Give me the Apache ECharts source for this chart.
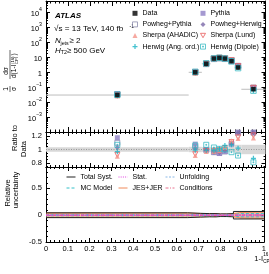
<!DOCTYPE html>
<html><head><meta charset="utf-8">
<script src="https://cdn.jsdelivr.net/npm/echarts@6/dist/echarts.min.js"></script>
<style>html,body{margin:0;padding:0;background:#fff}#c{width:269px;height:274px}</style>
</head><body><div id="c"></div>
<script>
const FONT = 'Liberation Sans, Arial, Helvetica, sans-serif';
// ---- data ----
const binLo = [0, 0.65, 0.71, 0.75, 0.78, 0.80, 0.83, 0.86, 0.89];
const binHi = [0.65, 0.71, 0.75, 0.78, 0.80, 0.83, 0.86, 0.89, 1.0];
const binCenters = [0.325, 0.68, 0.73, 0.765, 0.79, 0.815, 0.845, 0.875, 0.945];
const dataValues = [0.03, 1.0, 3.7, 8.3, 9.3, 8.3, 5.6, 2.1, 0.073];
const ratioPythia = [1.175, 1.08, 1.0, 0.96, 0.94, 0.97, 1.09, 1.255, 1.255];
const ratioPowhegPythia = [1.10, 1.04, 0.99, 0.96, 0.95, 0.97, 1.08, 1.25, 1.25];
const ratioPowhegHerwig = [1.03, 1.02, 0.99, 0.96, 0.95, 0.98, 1.09, 1.25, 1.25];
const ratioSherpaAhadic = [0.90, 0.91, 0.97, 0.97, 0.98, 1.03, 1.13, 1.165, 1.17];
const ratioSherpaLund = [0.92, 0.93, 0.98, 0.98, 0.99, 1.02, 1.11, 1.18, 1.21];
const ratioHerwigAng = [0.97, 0.99, 0.99, 0.98, 1.01, 1.06, 1.07, 1.02, 0.87];
const ratioHerwigDipole = [1.07, 1.06, 1.07, 1.03, 1.01, 1.00, 0.96, 0.91, 0.81];
const ratioBand = [0.035, 0.04, 0.035, 0.035, 0.03, 0.03, 0.035, 0.07, 0.07];
const uncTotal = [0.045, 0.035, 0.03, 0.03, 0.025, 0.025, 0.03, 0.07, 0.07];
const uncJesJer = [0.042, 0.032, 0.025, 0.028, 0.02, 0.02, 0.025, 0.05, 0.06];
const uncMcModel = [0.01, 0.012, 0.01, 0.01, 0.008, 0.008, 0.01, 0.03, 0.03];
const uncStat = [0.003, 0.005, 0.004, 0.004, 0.004, 0.004, 0.005, 0.008, 0.01];
const uncUnfolding = [0.006, 0.008, 0.006, 0.006, 0.005, 0.005, 0.006, 0.01, 0.012];
const uncConditions = [0.004, 0.005, 0.004, 0.004, 0.004, 0.004, 0.005, 0.008, 0.01];
const ratioTickLabels = [0.8, 1, 1.2];
const ratioMinorTicks = [0.75, 0.85, 0.9, 0.95, 1.05, 1.1, 1.15, 1.25];
const uncTickLabels = [-0.5, 0, 0.5];
const uncMinorTicks = [-0.4, -0.3, -0.2, -0.1, 0.1, 0.2, 0.3, 0.4, 0.6, 0.7, 0.8];

// ---- symbols ----
const PLUS = 'path://M3,0H5V3H8V5H5V8H3V5H0V3H3Z';
const TRI_DOWN = 'path://M0,0H8L4,7Z';
const OPEN_SQ_STAR = 'path://M0,0H8V8H0Z M4,2.5V5.5 M2.5,4H5.5';

const models = [
  {name: 'Powheg+Pythia', ratio: ratioPowhegPythia, symbol: 'rect', color: '#8c8cae', fill: false},
  {name: 'Pythia', ratio: ratioPythia, symbol: 'rect', color: '#8e80c6', fill: true},
  {name: 'Powheg+Herwig', ratio: ratioPowhegHerwig, symbol: 'diamond', color: '#7b68a8', fill: true},
  {name: 'Sherpa (Lund)', ratio: ratioSherpaLund, symbol: TRI_DOWN, color: '#e85a5a', fill: false},
  {name: 'Sherpa (AHADIC)', ratio: ratioSherpaAhadic, symbol: 'triangle', color: '#f4938a', fill: true},
  {name: 'Herwig (Dipole)', ratio: ratioHerwigDipole, symbol: OPEN_SQ_STAR, color: '#3cbcc4', fill: false},
  {name: 'Herwig (Ang. ord.)', ratio: ratioHerwigAng, symbol: PLUS, color: '#17b3c4', fill: true}
];
function modelStyle(m) {
  return m.fill ? {color: m.color, borderWidth: 0} : {color: 'rgba(255,255,255,0)', borderColor: m.color, borderWidth: 1};
}

const black = '#000';
function xAx(grid, pos, showLabel, major, minor) {
  return {
    type: 'value', gridIndex: grid, position: pos, min: 0, max: 1, interval: 0.1,
    axisLine: {show: true, onZero: false, lineStyle: {color: black, width: 1}},
    axisTick: {show: true, inside: true, length: major, lineStyle: {color: black}},
    minorTick: {show: true, splitNumber: 5, length: minor, lineStyle: {color: black}},
    splitLine: {show: false},
    axisLabel: {show: showLabel, fontFamily: FONT, fontSize: 7.5, color: black, margin: 3}
  };
}
function yVal(grid, pos, min, max, ticks, len, labels) {
  return {
    type: 'value', gridIndex: grid, position: pos, min: min, max: max,
    axisLine: {show: true, onZero: false, lineStyle: {color: black, width: 1}},
    axisTick: {show: true, inside: true, length: len, customValues: ticks, lineStyle: {color: black}},
    splitLine: {show: false},
    axisLabel: labels ? {show: true, customValues: ticks, fontFamily: FONT, fontSize: 7.5, color: black, margin: 4} : {show: false}
  };
}
function yLog(pos, labels) {
  return {
    type: 'log', gridIndex: 0, position: pos, min: 1e-4, max: 6e4, logBase: 10,
    axisLine: {show: true, onZero: false, lineStyle: {color: black, width: 1}},
    axisTick: {show: true, inside: true, length: 4, lineStyle: {color: black}},
    minorTick: {show: true, splitNumber: 9, length: 2, lineStyle: {color: black}},
    splitLine: {show: false},
    axisLabel: {
      show: labels, fontFamily: FONT, fontSize: 7.5, color: black, margin: 4,
      showMaxLabel: false,
      formatter: function (v) {
        const l = Math.log10(v); const n = Math.round(l);
        if (Math.abs(l - n) > 1e-6 || n < -3 || n > 4) return '';
        if (n === 0) return '{b|1}';
        if (n === 1) return '{b|10}';
        return '{b|10}{s|' + (n < 0 ? '\u2212' + (-n) : n) + '}';
      },
      rich: {
        b: {fontFamily: FONT, fontSize: 7.5, lineHeight: 11, verticalAlign: 'bottom', color: black},
        s: {fontFamily: FONT, fontSize: 5.2, lineHeight: 6, verticalAlign: 'top', color: black}
      }
    }
  };
}

function binSeg(params, api) {
  const a = api.coord([api.value(0), api.value(2)]);
  const b = api.coord([api.value(1), api.value(2)]);
  return {type: 'line', shape: {x1: a[0], y1: a[1], x2: b[0], y2: b[1]}, style: {stroke: '#bdbdbd', lineWidth: 1}};
}
function bandRect(fill) {
  return function (params, api) {
    const a = api.coord([api.value(0), api.value(2) + api.value(3)]);
    const b = api.coord([api.value(1), api.value(2) - api.value(3)]);
    return {type: 'rect', shape: {x: a[0], y: a[1], width: b[0] - a[0], height: b[1] - a[1]}, style: {fill: fill}};
  };
}
function stepData(arr, sign) {
  const d = binLo.map((x, i) => [x, sign * arr[i]]);
  d.push([binHi[binHi.length - 1], sign * arr[arr.length - 1]]);
  return d;
}

const series = [];
series.push({type: 'custom', xAxisIndex: 0, yAxisIndex: 0, silent: true, z: 1,
  data: binCenters.map((x, i) => [binLo[i], binHi[i], dataValues[i]]),
  encode: {x: [0, 1], y: 2}, renderItem: binSeg});
series.push({type: 'custom', xAxisIndex: 2, yAxisIndex: 2, silent: true, z: 1,
  data: binCenters.map((x, i) => [binLo[i], binHi[i], 1, ratioBand[i]]),
  encode: {x: [0, 1], y: 2}, renderItem: bandRect('#d8d8d8')});
series.push({type: 'line', xAxisIndex: 2, yAxisIndex: 2, silent: true, z: 2, symbol: 'none',
  data: [[0, 1], [1, 1]], lineStyle: {color: '#999', width: 1, type: [1, 1.5]}});

models.forEach((m, k) => {
  const style = modelStyle(m);
  series.push({type: 'scatter', name: m.name, xAxisIndex: 0, yAxisIndex: 0, z: 3 + k * 0.01,
    symbol: m.symbol, symbolSize: 5.5, itemStyle: style,
    data: binCenters.map((x, i) => [x, dataValues[i] * m.ratio[i]])});
  series.push({type: 'scatter', name: m.name, xAxisIndex: 2, yAxisIndex: 2, z: 3 + k * 0.01,
    symbol: m.symbol, symbolSize: 5, itemStyle: style,
    data: binCenters.map((x, i) => [x, m.ratio[i]])});
});
series.push({type: 'scatter', name: 'Data', xAxisIndex: 0, yAxisIndex: 0, z: 6,
  symbol: 'rect', symbolSize: 4.5, itemStyle: {color: '#000'},
  data: binCenters.map((x, i) => [x, dataValues[i]])});

series.push({type: 'custom', xAxisIndex: 4, yAxisIndex: 6, silent: true, z: 1,
  data: binCenters.map((x, i) => [binLo[i], binHi[i], 0, uncJesJer[i]]),
  encode: {x: [0, 1], y: 2}, renderItem: bandRect('rgba(240,140,90,0.6)')});
const uncDefs = [
  {name: 'JES+JER', arr: uncJesJer, color: '#f08a5a', type: 'solid', w: 1},
  {name: 'Total Syst.', arr: uncTotal, color: '#222', type: 'solid', w: 1},
  {name: 'MC Model', arr: uncMcModel, color: '#35c0c8', type: [3, 2], w: 1},
  {name: 'Unfolding', arr: uncUnfolding, color: '#8ab8e6', type: [2, 1.5], w: 1},
  {name: 'Conditions', arr: uncConditions, color: '#e8708e', type: [3, 1.5, 1, 1.5], w: 1},
  {name: 'Stat.', arr: uncStat, color: '#e040e0', type: [1, 1.2], w: 1}
];
uncDefs.forEach((u, k) => {
  [1, -1].forEach(sgn => {
    series.push({type: 'line', name: u.name, xAxisIndex: 4, yAxisIndex: 6, step: 'end', symbol: 'none',
      z: 2 + k * 0.01, silent: true, itemStyle: {color: u.color},
      lineStyle: {color: u.color, width: u.w, type: u.type}, data: stepData(u.arr, sgn)});
  });
});

const legText = {fontFamily: FONT, fontSize: 7, color: '#000', lineHeight: 8};
function legItem(name) {
  if (name === 'Data') return {name: name, itemStyle: {color: '#000'}};
  const m = models.find(q => q.name === name);
  return {name: name, icon: m.symbol, itemStyle: modelStyle(m)};
}
function markerLegend(left, names) {
  return {show: true, orient: 'vertical', left: left, top: 9.3, itemWidth: 5, itemHeight: 5, itemGap: 3.1,
    selectedMode: false, textStyle: legText, data: names.map(legItem), padding: 0};
}
function lineLegend(left, names) {
  return {show: true, orient: 'vertical', left: left, top: 173, itemWidth: 9, itemHeight: 6, itemGap: 3,
    selectedMode: false, textStyle: legText, data: names, padding: 0,
    lineStyle: {width: 1},
    itemStyle: {opacity: 0, color: 'rgba(0,0,0,0)', borderWidth: 0}};
}

const T = (x, y, text, size, extra) => ({type: 'text', x: x, y: y, silent: true,
  style: Object.assign({text: text, fontFamily: FONT, fontSize: size, fill: '#000', verticalAlign: 'middle'}, extra || {})});
const R = (x, y, text, size) => Object.assign(T(x, y, text, size, {align: 'center'}), {rotation: Math.PI / 2});

const graphic = [
  T(55, 16, 'ATLAS', 8, {fontWeight: 'bold', fontStyle: 'italic'}),
  T(54, 28.5, '\u221As = 13 TeV, 140 fb', 8.1),
  T(129.5, 26.3, '-1', 5),
  T(55, 41, 'N', 8, {fontStyle: 'italic'}),
  T(60.5, 43.5, 'jets', 5.3),
  T(69.5, 41, '\u2265 2', 8),
  T(55, 50.5, 'H', 8, {fontStyle: 'italic'}),
  T(60.8, 53, 'T2', 5.3),
  T(67, 50.5, '\u2265 500 GeV', 8),
  T(263, 258.5, '1-I', 7.5, {align: 'right'}),
  T(263.3, 254.5, '16', 4.6),
  T(263.3, 261.5, 'CPl', 4.6),
  R(15, 138, 'Ratio to', 7.5),
  R(23.5, 149, 'Data', 7.5),
  R(8, 193, 'Relative', 7.5),
  R(15.5, 190, 'uncertainty', 7.5),
  {type: 'group', x: 10, y: 92, rotation: Math.PI / 2, silent: true, children: [
    {type: 'text', x: 3, y: -0.6, style: {text: '1', fontFamily: FONT, fontSize: 6.5, fill: '#000', align: 'center', verticalAlign: 'bottom'}},
    {type: 'line', shape: {x1: 0, y1: 0, x2: 6, y2: 0}, style: {stroke: '#000', lineWidth: 0.6}},
    {type: 'text', x: 3, y: 0.6, style: {text: '\u03C3', fontFamily: FONT, fontSize: 6.5, fill: '#000', align: 'center', verticalAlign: 'top'}},
    {type: 'text', x: 21, y: -0.6, style: {text: 'd\u03C3', fontFamily: FONT, fontSize: 6.5, fill: '#000', align: 'center', verticalAlign: 'bottom'}},
    {type: 'line', shape: {x1: 13, y1: 0, x2: 42, y2: 0}, style: {stroke: '#000', lineWidth: 0.6}},
    {type: 'text', x: 14, y: 1.2, style: {text: 'd(1-I', fontFamily: FONT, fontSize: 6.5, fill: '#000', align: 'left', verticalAlign: 'top'}},
    {type: 'text', x: 28, y: 0.4, style: {text: '(16)', fontFamily: FONT, fontSize: 4.2, fill: '#000', align: 'left', verticalAlign: 'top'}},
    {type: 'text', x: 28, y: 5.2, style: {text: 'CPl', fontFamily: FONT, fontSize: 4.2, fill: '#000', align: 'left', verticalAlign: 'top'}},
    {type: 'text', x: 36.5, y: 1.2, style: {text: ')', fontFamily: FONT, fontSize: 6.5, fill: '#000', align: 'left', verticalAlign: 'top'}}
  ]}
];

const option = {
  animation: false,
  backgroundColor: '#fff',
  grid: [
    {left: 46, right: 3.5, top: 1, height: 131},
    {left: 46, right: 3.5, top: 132, height: 35},
    {left: 46, right: 3.5, top: 167, height: 75}
  ],
  xAxis: [
    xAx(0, 'bottom', false, 5, 2.5), xAx(0, 'top', false, 5, 2.5),
    xAx(1, 'bottom', false, 4, 2), xAx(1, 'top', false, 4, 2),
    xAx(2, 'bottom', true, 4, 2), xAx(2, 'top', false, 4, 2)
  ],
  yAxis: [
    yLog('left', true), yLog('right', false),
    yVal(1, 'left', 0.74, 1.26, ratioTickLabels, 4, true), yVal(1, 'left', 0.74, 1.26, ratioMinorTicks, 2, false),
    yVal(1, 'right', 0.74, 1.26, ratioTickLabels, 4, false), yVal(1, 'right', 0.74, 1.26, ratioMinorTicks, 2, false),
    yVal(2, 'left', -0.5, 0.9, uncTickLabels, 4, true), yVal(2, 'left', -0.5, 0.9, uncMinorTicks, 2, false),
    yVal(2, 'right', -0.5, 0.9, uncTickLabels, 4, false), yVal(2, 'right', -0.5, 0.9, uncMinorTicks, 2, false)
  ],
  legend: [
    markerLegend(132, ['Data', 'Powheg+Pythia', 'Sherpa (AHADIC)', 'Herwig (Ang. ord.)']),
    markerLegend(200, ['Pythia', 'Powheg+Herwig', 'Sherpa (Lund)', 'Herwig (Dipole)']),
    lineLegend(66, ['Total Syst.', 'MC Model']),
    lineLegend(118, ['Stat.', 'JES+JER']),
    lineLegend(165, ['Unfolding', 'Conditions'])
  ],
  graphic: graphic,
  series: series
};
const chart = echarts.init(document.getElementById('c'), null, {renderer: 'canvas'});
chart.setOption(option);
</script></body></html>
